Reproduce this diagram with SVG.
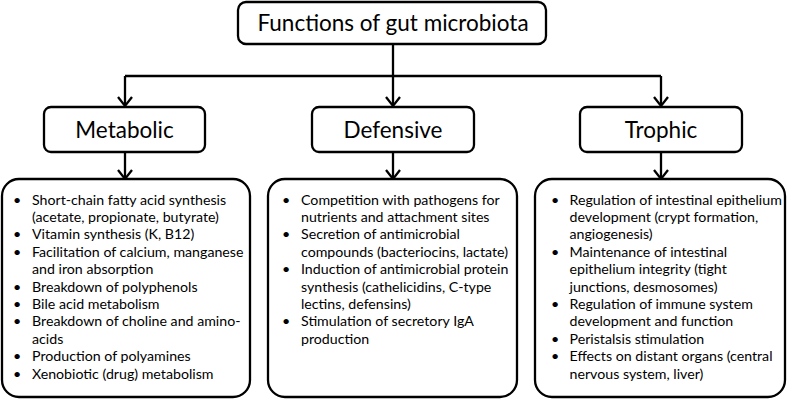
<svg xmlns="http://www.w3.org/2000/svg" width="787" height="401" viewBox="0 0 787 401">
<style>
.box{fill:#fff;stroke:#000;stroke-width:2.3}
.conn{fill:none;stroke:#000;stroke-width:2.3}
.title{font-family:Lato,"Liberation Sans",sans-serif;font-size:22.5px;fill:#000}
.head{font-family:Lato,"Liberation Sans",sans-serif;font-size:22.5px;fill:#000}
.item{font-family:Lato,"Liberation Sans",sans-serif;font-size:14.2px;fill:#000}
</style>
<g id="connectors">
<path class="conn" d="M393,44 V76"/>
<path class="conn" d="M125,76 H661"/>
<path class="conn" d="M125,76 V105"/>
<path class="conn" d="M393,76 V105"/>
<path class="conn" d="M661,76 V105"/>
<path class="conn" d="M125,152 V178"/>
<path class="conn" d="M393,152 V178"/>
<path class="conn" d="M661,152 V178"/>
<path class="conn" d="M118,97 L125,106 L132,97"/>
<path class="conn" d="M386,97 L393,106 L400,97"/>
<path class="conn" d="M654,97 L661,106 L668,97"/>
<path class="conn" d="M118,170 L125,179 L132,170"/>
<path class="conn" d="M386,170 L393,179 L400,170"/>
<path class="conn" d="M654,170 L661,179 L668,170"/>
</g>
<g id="title">
<rect class="box" x="238" y="2" width="308" height="42" rx="8"/>
<text class="title" x="393" y="31" text-anchor="middle">Functions of gut microbiota</text>
</g>
<g id="metabolic">
<rect class="box" x="44" y="107" width="161" height="45" rx="7"/>
<text class="head" x="124.5" y="137.5" text-anchor="middle">Metabolic</text>
</g>
<g id="defensive">
<rect class="box" x="312" y="107" width="162" height="45" rx="7"/>
<text class="head" x="393" y="137.5" text-anchor="middle">Defensive</text>
</g>
<g id="trophic">
<rect class="box" x="580" y="107" width="162" height="45" rx="7"/>
<text class="head" x="661" y="137.5" text-anchor="middle">Trophic</text>
</g>
<g id="metabolic-list">
<rect class="box" x="2" y="179" width="248" height="218" rx="17"/>
<text class="item">
<tspan x="13" y="204.5">•</tspan><tspan x="32" y="204.5">Short-chain fatty acid synthesis</tspan>
<tspan x="32" y="221.9">(acetate, propionate, butyrate)</tspan>
<tspan x="13" y="239.3">•</tspan><tspan x="32" y="239.3">Vitamin synthesis (K, B12)</tspan>
<tspan x="13" y="256.7">•</tspan><tspan x="32" y="256.7">Facilitation of calcium, manganese</tspan>
<tspan x="32" y="274.1">and iron absorption</tspan>
<tspan x="13" y="291.5">•</tspan><tspan x="32" y="291.5">Breakdown of polyphenols</tspan>
<tspan x="13" y="308.9">•</tspan><tspan x="32" y="308.9">Bile acid metabolism</tspan>
<tspan x="13" y="326.3">•</tspan><tspan x="32" y="326.3">Breakdown of choline and amino-</tspan>
<tspan x="32" y="343.7">acids</tspan>
<tspan x="13" y="361.1">•</tspan><tspan x="32" y="361.1">Production of polyamines</tspan>
<tspan x="13" y="378.5">•</tspan><tspan x="32" y="378.5">Xenobiotic (drug) metabolism</tspan>
</text>
</g>
<g id="defensive-list">
<rect class="box" x="268" y="179" width="249" height="218" rx="17"/>
<text class="item">
<tspan x="282" y="204.5">•</tspan><tspan x="301" y="204.5">Competition with pathogens for</tspan>
<tspan x="301" y="221.9">nutrients and attachment sites</tspan>
<tspan x="282" y="239.3">•</tspan><tspan x="301" y="239.3">Secretion of antimicrobial</tspan>
<tspan x="301" y="256.7">compounds (bacteriocins, lactate)</tspan>
<tspan x="282" y="274.1">•</tspan><tspan x="301" y="274.1">Induction of antimicrobial protein</tspan>
<tspan x="301" y="291.5">synthesis (cathelicidins, C-type</tspan>
<tspan x="301" y="308.9">lectins, defensins)</tspan>
<tspan x="282" y="326.3">•</tspan><tspan x="301" y="326.3">Stimulation of secretory IgA</tspan>
<tspan x="301" y="343.7">production</tspan>
</text>
</g>
<g id="trophic-list">
<rect class="box" x="535" y="179" width="250" height="218" rx="17"/>
<text class="item">
<tspan x="551" y="204.5">•</tspan><tspan x="569.5" y="204.5">Regulation of intestinal epithelium</tspan>
<tspan x="569.5" y="221.9">development (crypt formation,</tspan>
<tspan x="569.5" y="239.3">angiogenesis)</tspan>
<tspan x="551" y="256.7">•</tspan><tspan x="569.5" y="256.7">Maintenance of intestinal</tspan>
<tspan x="569.5" y="274.1">epithelium integrity (tight</tspan>
<tspan x="569.5" y="291.5">junctions, desmosomes)</tspan>
<tspan x="551" y="308.9">•</tspan><tspan x="569.5" y="308.9">Regulation of immune system</tspan>
<tspan x="569.5" y="326.3">development and function</tspan>
<tspan x="551" y="343.7">•</tspan><tspan x="569.5" y="343.7">Peristalsis stimulation</tspan>
<tspan x="551" y="361.1">•</tspan><tspan x="569.5" y="361.1">Effects on distant organs (central</tspan>
<tspan x="569.5" y="378.5">nervous system, liver)</tspan>
</text>
</g>
</svg>
